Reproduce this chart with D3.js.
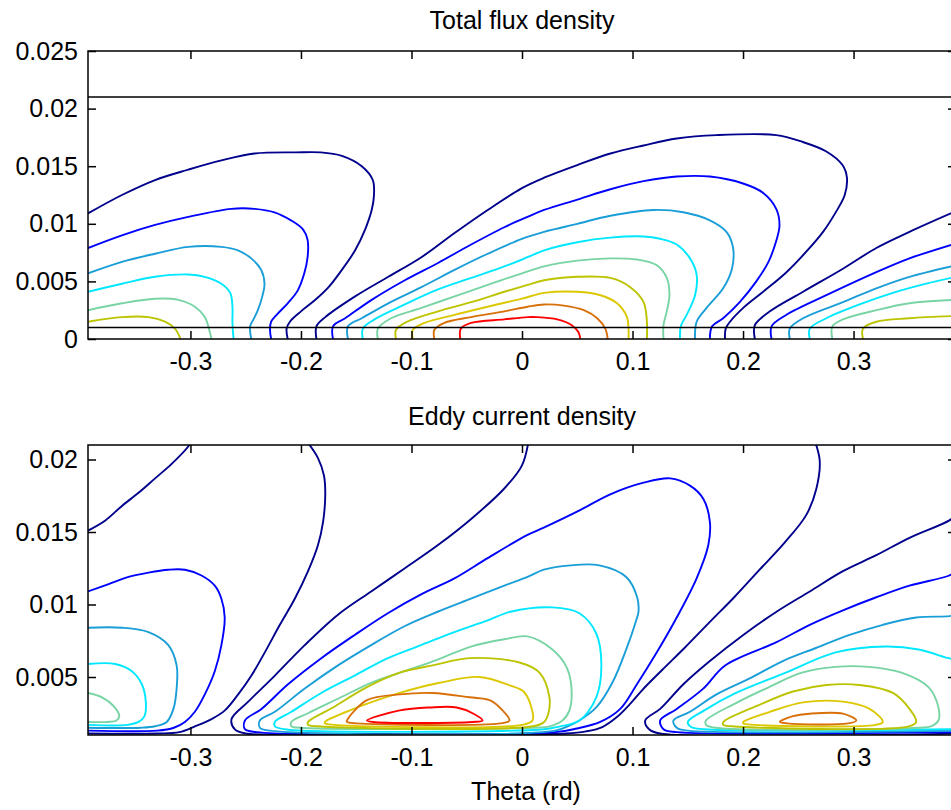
<!DOCTYPE html>
<html>
<head>
<meta charset="utf-8">
<script src="https://cdn.jsdelivr.net/npm/d3@7"></script>
<style>
body { margin: 0; background: #fff; }
svg text { font-family: "Liberation Sans", Arial, sans-serif; fill: #000; }
</style>
</head>
<body>
<div id="chart"></div>
<script>
// contour colours, outer level first (jet-like)
const levelColors = ["#00008c", "#0000ff", "#1a9ed8", "#00e8ff", "#78d4a4", "#bcc400", "#dcc800", "#d8700a", "#ff0000"];

const thetaTicks = [-0.3, -0.2, -0.1, 0, 0.1, 0.2, 0.3];
const fluxTicks = [0, 0.005, 0.01, 0.015, 0.02, 0.025];
const eddyTicks = [0.005, 0.01, 0.015, 0.02];
const fluxBounds = [0.001, 0.021];

// Total flux density contours, [theta, y] points, index = level
const fluxLeft = [
    [[-0.3927,0.0109],[-0.362,0.0125],[-0.332,0.0138],[-0.302,0.0147],[-0.272,0.0155],[-0.242,0.0161],[-0.205,0.0162],[-0.182,0.0162],[-0.163,0.0159],[-0.145,0.0150],[-0.135,0.0138],[-0.134,0.0124],[-0.136,0.0112],[-0.142,0.0095],[-0.151,0.0077],[-0.163,0.0060],[-0.175,0.0045],[-0.187,0.0034],[-0.200,0.0024],[-0.210,0.0015],[-0.213,0.0009],[-0.212,0]],
    [[-0.3927,0.0079],[-0.362,0.0090],[-0.332,0.0099],[-0.302,0.0106],[-0.263,0.0113],[-0.242,0.0113],[-0.224,0.0110],[-0.209,0.0103],[-0.198,0.0095],[-0.194,0.0086],[-0.194,0.0071],[-0.197,0.0057],[-0.203,0.0042],[-0.212,0.0031],[-0.221,0.0022],[-0.227,0.0015],[-0.228,0.0008],[-0.227,0]],
    [[-0.3927,0.0057],[-0.362,0.0067],[-0.332,0.0074],[-0.302,0.0080],[-0.272,0.0080],[-0.257,0.0077],[-0.245,0.0070],[-0.236,0.0060],[-0.233,0.0048],[-0.235,0.0037],[-0.239,0.0025],[-0.243,0.0017],[-0.246,0.0011],[-0.245,0]],
    [[-0.3927,0.0041],[-0.362,0.0048],[-0.332,0.0054],[-0.302,0.0056],[-0.287,0.0054],[-0.272,0.0048],[-0.264,0.0040],[-0.262,0.0028],[-0.262,0.0014],[-0.261,0]],
    [[-0.3927,0.0025],[-0.362,0.0031],[-0.332,0.0035],[-0.311,0.0034],[-0.296,0.0028],[-0.287,0.0019],[-0.283,0.0008],[-0.281,0]],
    [[-0.3927,0.0015],[-0.362,0.0019],[-0.338,0.0019],[-0.323,0.0015],[-0.314,0.0009],[-0.309,0]]
];

const fluxMid = [
    [[-0.186,0],[-0.186,0.0011],[-0.178,0.0019],[-0.151,0.0037],[-0.121,0.0054],[-0.091,0.0071],[-0.061,0.0092],[-0.031,0.0112],[0.0,0.0131],[0.020,0.0140],[0.050,0.0151],[0.080,0.0161],[0.110,0.0168],[0.140,0.0174],[0.176,0.0177],[0.230,0.0177],[0.254,0.0171],[0.275,0.0163],[0.290,0.0151],[0.294,0.0140],[0.292,0.0125],[0.2845,0.0111],[0.2724,0.0093],[0.2574,0.0076],[0.2393,0.0058],[0.2182,0.0041],[0.2002,0.0027],[0.1882,0.0015],[0.1843,0.0009],[0.1837,0]],
    [[-0.171,0],[-0.171,0.0011],[-0.160,0.0018],[-0.136,0.0034],[-0.106,0.0051],[-0.076,0.0066],[-0.046,0.0082],[-0.016,0.0097],[0.005,0.0106],[0.020,0.0112],[0.050,0.0121],[0.080,0.0130],[0.110,0.0137],[0.140,0.0141],[0.170,0.0141],[0.200,0.0135],[0.218,0.0127],[0.230,0.0113],[0.233,0.0099],[0.230,0.0085],[0.223,0.0067],[0.212,0.0050],[0.197,0.0032],[0.182,0.0018],[0.172,0.0011],[0.170,0]],
    [[-0.1575,0],[-0.1575,0.0011],[-0.145,0.0018],[-0.121,0.0031],[-0.091,0.0045],[-0.061,0.0060],[-0.031,0.0074],[0.0,0.0087],[0.020,0.0093],[0.050,0.0100],[0.080,0.0107],[0.119,0.0112],[0.146,0.0110],[0.170,0.0103],[0.185,0.0093],[0.191,0.0079],[0.190,0.0061],[0.182,0.0044],[0.167,0.0027],[0.158,0.0015],[0.1566,0]],
    [[-0.144,0],[-0.144,0.0009],[-0.1335,0.0017],[-0.106,0.0030],[-0.076,0.0043],[-0.046,0.0053],[-0.016,0.0063],[0.005,0.0071],[0.020,0.0077],[0.050,0.0084],[0.080,0.0088],[0.110,0.0089],[0.125,0.0087],[0.140,0.0082],[0.152,0.0070],[0.158,0.0056],[0.1566,0.0038],[0.149,0.0021],[0.1437,0.0011],[0.143,0]],
    [[-0.1304,0],[-0.1304,0.0009],[-0.1184,0.0018],[-0.091,0.0027],[-0.061,0.0037],[-0.031,0.0047],[0.0,0.0057],[0.020,0.0063],[0.050,0.0068],[0.080,0.0070],[0.104,0.0069],[0.122,0.0064],[0.131,0.0053],[0.1334,0.0038],[0.131,0.0024],[0.128,0.0012],[0.128,0]],
    [[-0.114,0],[-0.114,0.0008],[-0.104,0.0015],[-0.076,0.0024],[-0.046,0.0032],[-0.016,0.0041],[0.005,0.0047],[0.020,0.0051],[0.050,0.0054],[0.080,0.0053],[0.098,0.0045],[0.110,0.0032],[0.113,0.0015],[0.113,0]],
    [[-0.0988,0],[-0.0988,0.0008],[-0.0883,0.0014],[-0.061,0.0021],[-0.031,0.0028],[0.0,0.0035],[0.020,0.0040],[0.050,0.0041],[0.071,0.0038],[0.086,0.0031],[0.095,0.0019],[0.0964,0.0009],[0.0964,0]],
    [[-0.0793,0],[-0.0793,0.0008],[-0.0702,0.0014],[-0.046,0.0019],[-0.016,0.0024],[0.005,0.0028],[0.020,0.0030],[0.038,0.0029],[0.056,0.0025],[0.068,0.0018],[0.0754,0.0009],[0.0775,0]],
    [[-0.0558,0],[-0.0554,0.0009],[-0.046,0.0014],[-0.016,0.0017],[0.005,0.0019],[0.014,0.0019],[0.032,0.0017],[0.045,0.0012],[0.051,0.0006],[0.0528,0]]
];

const fluxRight = [
    [[0.2107,0],[0.2107,0.0012],[0.2243,0.0024],[0.2543,0.0041],[0.2904,0.0061],[0.3206,0.0079],[0.3506,0.0093],[0.3927,0.0111]],
    [[0.2258,0],[0.2258,0.0011],[0.2393,0.0021],[0.2754,0.0038],[0.3206,0.0058],[0.3506,0.0070],[0.3927,0.0083]],
    [[0.2423,0],[0.2423,0.0009],[0.2543,0.0018],[0.2904,0.0032],[0.3206,0.0044],[0.3506,0.0054],[0.3927,0.0064]],
    [[0.2604,0],[0.2604,0.0009],[0.2754,0.0018],[0.3055,0.0030],[0.3356,0.0040],[0.3657,0.0048],[0.3927,0.0054]],
    [[0.2808,0],[0.2808,0.0011],[0.2904,0.0017],[0.3206,0.0025],[0.3506,0.0031],[0.3927,0.0034]],
    [[0.3085,0],[0.3085,0.0009],[0.3206,0.0015],[0.3506,0.0018],[0.3927,0.0020]]
];

// Eddy current density contours
const eddyLeftArm = [
    [[-0.3927,0.0151],[-0.377,0.0158],[-0.362,0.0168],[-0.347,0.0177],[-0.332,0.0187],[-0.317,0.0197],[-0.302,0.0209],[-0.299,0.0213]]
];

const eddyLeft = [
    [[-0.1951,0.0213],[-0.1846,0.0201],[-0.1792,0.0189],[-0.178,0.0176],[-0.180,0.0157],[-0.1846,0.0141],[-0.1936,0.0123],[-0.2056,0.0104],[-0.2191,0.0086],[-0.2327,0.0067],[-0.2448,0.0051],[-0.2568,0.0038],[-0.2688,0.0027],[-0.2809,0.0021],[-0.2959,0.0016],[-0.310,0.0012],[-0.330,0.0011],[-0.3927,0.0011]],
    [[-0.3927,0.0109],[-0.374,0.0114],[-0.356,0.0119],[-0.338,0.0122],[-0.320,0.0124],[-0.305,0.0124],[-0.290,0.0120],[-0.278,0.0113],[-0.272,0.0104],[-0.269,0.0091],[-0.272,0.0072],[-0.278,0.0054],[-0.287,0.0038],[-0.296,0.0026],[-0.305,0.0019],[-0.315,0.0015],[-0.330,0.0013],[-0.3927,0.0013]],
    [[-0.3927,0.0084],[-0.362,0.0084],[-0.338,0.0081],[-0.320,0.0072],[-0.3125,0.0058],[-0.3125,0.0042],[-0.3154,0.0028],[-0.3215,0.0019],[-0.332,0.0016],[-0.345,0.0015],[-0.3927,0.0015]],
    [[-0.3927,0.0059],[-0.368,0.0059],[-0.353,0.0054],[-0.344,0.0045],[-0.3404,0.0033],[-0.3416,0.0023],[-0.347,0.0019],[-0.357,0.0017],[-0.3927,0.0017]],
    [[-0.3927,0.0039],[-0.380,0.0036],[-0.3696,0.0030],[-0.3644,0.0023],[-0.367,0.0020],[-0.375,0.0019],[-0.3927,0.0019]]
];

const eddyMid = [
    [[0.006,0.0213],[0.0,0.0196],[-0.016,0.0180],[-0.046,0.0159],[-0.076,0.0141],[-0.106,0.0125],[-0.1365,0.0109],[-0.1665,0.0093],[-0.1966,0.0072],[-0.2236,0.0051],[-0.2477,0.0033],[-0.2628,0.0021],[-0.260,0.0014],[-0.250,0.0011],[-0.200,0.0011],[0.040,0.0011],[0.058,0.00125],[0.0727,0.00155],[0.0853,0.0022],[0.0985,0.0032],[0.1088,0.0041],[0.127,0.0055],[0.147,0.0070],[0.170,0.0088],[0.192,0.0105],[0.215,0.0124],[0.238,0.0143],[0.2574,0.0162],[0.2664,0.0180],[0.2694,0.0199],[0.2649,0.0213]],
    [[-0.2507,0.0020],[-0.2357,0.0028],[-0.2117,0.0045],[-0.1816,0.0063],[-0.1514,0.0079],[-0.1214,0.0094],[-0.0913,0.0107],[-0.0612,0.0118],[-0.0311,0.0132],[0.005,0.0148],[0.0197,0.0153],[0.0498,0.0164],[0.0799,0.0176],[0.110,0.0184],[0.134,0.0187],[0.152,0.0182],[0.164,0.0173],[0.170,0.0157],[0.1686,0.0141],[0.158,0.0118],[0.140,0.0091],[0.122,0.0067],[0.104,0.0045],[0.0889,0.0028],[0.0708,0.0019],[0.0498,0.00145],[0.030,0.0012],[-0.240,0.0012],[-0.2507,0.0014]],
    [[-0.2372,0.0020],[-0.2236,0.0026],[-0.1966,0.0042],[-0.1665,0.0058],[-0.1365,0.0072],[-0.1063,0.0085],[-0.0763,0.0095],[-0.0462,0.0104],[-0.016,0.0113],[0.005,0.0119],[0.0197,0.0124],[0.0438,0.0127],[0.070,0.0127],[0.0943,0.0119],[0.1042,0.0105],[0.1054,0.0095],[0.1033,0.0089],[0.0943,0.0069],[0.0817,0.0046],[0.0672,0.0029],[0.0519,0.0020],[0.0429,0.00165],[0.030,0.0013],[-0.228,0.0013],[-0.2372,0.0015]],
    [[-0.2236,0.0019],[-0.2087,0.0026],[-0.1816,0.0039],[-0.1514,0.0051],[-0.1214,0.0063],[-0.0913,0.0072],[-0.0612,0.0081],[-0.0311,0.0089],[-0.0104,0.0095],[0.0275,0.0098],[0.0519,0.0094],[0.0672,0.0080],[0.0718,0.0057],[0.0672,0.0036],[0.0519,0.0020],[0.0347,0.0016],[0.020,0.0014],[-0.215,0.0014],[-0.2236,0.0016]],
    [[-0.2087,0.0019],[-0.1936,0.0025],[-0.1665,0.0035],[-0.1365,0.0046],[-0.1063,0.0054],[-0.0763,0.0062],[-0.0462,0.0071],[-0.016,0.0076],[0.005,0.0078],[0.0275,0.0069],[0.0402,0.0057],[0.0447,0.0043],[0.0429,0.0027],[0.0366,0.0020],[0.025,0.0016],[0.010,0.0015],[-0.200,0.0015],[-0.2087,0.0016]],
    [[-0.1936,0.0019],[-0.171,0.0029],[-0.1403,0.0043],[-0.1106,0.0053],[-0.0808,0.0058],[-0.0474,0.0063],[-0.0023,0.0060],[0.0158,0.0053],[0.0248,0.0036],[0.0239,0.0025],[0.020,0.0019],[0.010,0.0016],[-0.185,0.0016],[-0.1936,0.0017]],
    [[-0.1783,0.0019],[-0.1557,0.0027],[-0.1106,0.0039],[-0.0745,0.0046],[-0.0384,0.0050],[-0.0104,0.0044],[0.0014,0.0040],[0.0077,0.0031],[0.0095,0.0020],[0.0,0.0017],[-0.170,0.0017],[-0.1783,0.0018]],
    [[-0.1584,0.0020],[-0.1403,0.0034],[-0.1106,0.0038],[-0.0808,0.0039],[-0.0474,0.0036],[-0.0293,0.0034],[-0.0176,0.0027],[-0.0113,0.0020],[-0.020,0.0018],[-0.150,0.0018],[-0.1584,0.0019]],
    [[-0.1403,0.0020],[-0.1106,0.0027],[-0.0835,0.0029],[-0.0591,0.0029],[-0.0447,0.0025],[-0.0357,0.0020],[-0.045,0.0019],[-0.135,0.0019]]
];

const eddyRight = [
    [[0.3927,0.0162],[0.3867,0.0158],[0.3506,0.0146],[0.3206,0.0134],[0.2904,0.0123],[0.2604,0.0109],[0.2303,0.0095],[0.2002,0.0079],[0.170,0.0061],[0.146,0.0045],[0.125,0.0028],[0.1115,0.0020],[0.115,0.0014],[0.125,0.0011],[0.3927,0.0011]],
    [[0.3927,0.0123],[0.3867,0.0120],[0.3506,0.0113],[0.3206,0.0105],[0.2904,0.0096],[0.2604,0.0086],[0.2303,0.0074],[0.1838,0.0058],[0.164,0.0042],[0.140,0.0028],[0.125,0.0020],[0.128,0.0014],[0.140,0.0012],[0.3927,0.0012]],
    [[0.3927,0.0093],[0.3867,0.0092],[0.3567,0.0091],[0.3265,0.0086],[0.2965,0.0079],[0.266,0.0070],[0.236,0.0061],[0.206,0.0049],[0.176,0.0038],[0.152,0.0026],[0.137,0.0020],[0.140,0.0015],[0.150,0.0013],[0.3927,0.0013]],
    [[0.3927,0.0062],[0.3858,0.0063],[0.3588,0.0069],[0.329,0.0071],[0.2838,0.0067],[0.2387,0.0053],[0.1936,0.0039],[0.165,0.0027],[0.150,0.0019],[0.153,0.00155],[0.165,0.0014],[0.3927,0.0014]],
    [[0.1665,0.0020],[0.1936,0.0032],[0.2234,0.0043],[0.2532,0.0053],[0.2838,0.0057],[0.3136,0.0057],[0.3434,0.0053],[0.3678,0.0043],[0.3768,0.0029],[0.3768,0.0020],[0.370,0.0016],[0.360,0.0015],[0.175,0.0015],[0.1665,0.0017]],
    [[0.1822,0.0019],[0.2153,0.0031],[0.2453,0.0040],[0.2754,0.00445],[0.3055,0.00445],[0.3356,0.0039],[0.3506,0.0028],[0.3567,0.0019],[0.350,0.0016],[0.190,0.0016],[0.1822,0.0017]],
    [[0.2002,0.0019],[0.2243,0.0026],[0.2543,0.00325],[0.2904,0.0033],[0.3145,0.0028],[0.3265,0.0019],[0.320,0.0017],[0.210,0.0017],[0.2002,0.0018]],
    [[0.2333,0.0019],[0.2453,0.0023],[0.2604,0.00247],[0.2904,0.00247],[0.3025,0.0020],[0.295,0.0018],[0.240,0.0018]]
];

var width = 951;
var height = 810;

var svg = d3.select("#chart")
    .append("svg")
    .attr("width", width)
    .attr("height", height);

// theta axis runs from -pi/8 to pi/8; right edge falls just outside the window
var x = d3.scaleLinear().domain([-Math.PI / 8, Math.PI / 8]).range([88, 956]);
var yFlux = d3.scaleLinear().domain([0, 0.025]).range([339, 51]);
var yEddy = d3.scaleLinear().domain([0.001, 0.021]).range([735, 445]);

function drawPanel(id, y, yTicks, lobes) {
    var x0 = x.range()[0], x1 = x.range()[1];
    var yb = y.range()[0], yt = y.range()[1];
    var g = svg.append("g");

    svg.append("clipPath").attr("id", id)
        .append("rect")
        .attr("x", x0).attr("y", yt)
        .attr("width", x1 - x0).attr("height", yb - yt);

    var plot = g.append("g").attr("clip-path", "url(#" + id + ")");

    lobes.forEach(function (lobe) {
        lobe.lines.forEach(function (pts, i) {
            var closed = i >= lobe.closedFrom;
            var line = d3.line()
                .x(function (d) { return x(d[0]); })
                .y(function (d) { return y(d[1]); })
                .curve(closed ? d3.curveCatmullRomClosed.alpha(0.5) : d3.curveCatmullRom.alpha(0.5));
            plot.append("path")
                .attr("d", line(pts))
                .attr("fill", "none")
                .attr("stroke", levelColors[i])
                .attr("stroke-width", 1.9)
                .attr("stroke-linejoin", "round");
        });
    });

    // frame
    g.append("rect")
        .attr("x", x0).attr("y", yt)
        .attr("width", x1 - x0).attr("height", yb - yt)
        .attr("fill", "none")
        .attr("stroke", "#000")
        .attr("stroke-width", 1.5);

    g.append("g")
        .attr("transform", "translate(0," + yb + ")")
        .call(d3.axisBottom(x).tickValues(thetaTicks).tickFormat(function (d) { return String(d); })
            .tickSize(-8).tickPadding(13));
    g.append("g")
        .attr("transform", "translate(0," + yt + ")")
        .call(d3.axisTop(x).tickValues(thetaTicks).tickFormat("").tickSize(-8));
    g.append("g")
        .attr("transform", "translate(" + x0 + ",0)")
        .call(d3.axisLeft(y).tickValues(yTicks).tickFormat(function (d) { return String(d); })
            .tickSize(-8).tickPadding(10));
    g.append("g")
        .attr("transform", "translate(" + x1 + ",0)")
        .call(d3.axisRight(y).tickValues(yTicks).tickFormat("").tickSize(-8));

    g.selectAll(".domain").remove();
    g.selectAll(".tick line").attr("stroke", "#000").attr("stroke-width", 1.5);
    g.selectAll(".tick text")
        .style("font-size", "25px")
        .style("font-family", "'Liberation Sans', Arial, sans-serif")
        .attr("fill", "#000");
    return g;
}

var fluxPanel = drawPanel("clipFlux", yFlux, fluxTicks, [
    { lines: fluxLeft, closedFrom: 99 },
    { lines: fluxMid, closedFrom: 99 },
    { lines: fluxRight, closedFrom: 99 }
]);

// air gap boundaries
fluxPanel.selectAll(".bound")
    .data(fluxBounds)
    .enter().append("line")
    .attr("class", "bound")
    .attr("x1", x.range()[0])
    .attr("x2", x.range()[1])
    .attr("y1", function (d) { return yFlux(d); })
    .attr("y2", function (d) { return yFlux(d); })
    .attr("stroke", "#000")
    .attr("stroke-width", 1.5);

drawPanel("clipEddy", yEddy, eddyTicks, [
    { lines: eddyLeftArm, closedFrom: 99 },
    { lines: eddyLeft, closedFrom: 99 },
    { lines: eddyMid, closedFrom: 1 },
    { lines: eddyRight, closedFrom: 4 }
]);

svg.append("text")
    .attr("x", 522)
    .attr("y", 29)
    .attr("text-anchor", "middle")
    .style("font-size", "25px")
    .text("Total flux density");

svg.append("text")
    .attr("x", 522)
    .attr("y", 425)
    .attr("text-anchor", "middle")
    .style("font-size", "25px")
    .text("Eddy current density");

svg.append("text")
    .attr("x", 526)
    .attr("y", 800)
    .attr("text-anchor", "middle")
    .style("font-size", "25px")
    .text("Theta (rd)");
</script>
</body>
</html>
